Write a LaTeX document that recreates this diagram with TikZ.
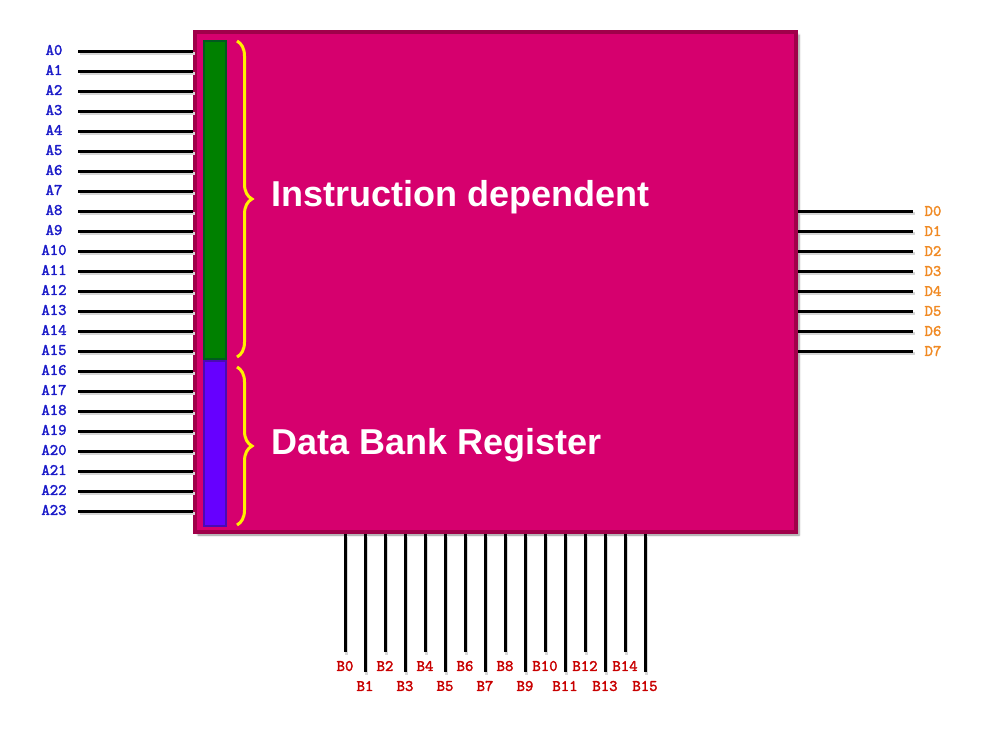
\documentclass[tikz,border=0pt]{standalone}
\usepackage{fontspec}
\setmainfont{Liberation Sans}
\newfontfamily\pinfont{lmmono10-regular.otf}[FakeBold=2]
\usepackage{tikz}
\usetikzlibrary{calc,shadows.blur,decorations.pathreplacing}
\definecolor{chipfill}{HTML}{D6006E}
\definecolor{chipedge}{HTML}{A0004A}
\definecolor{instrfill}{HTML}{008000}
\definecolor{instredge}{HTML}{005A1E}
\definecolor{bankfill}{HTML}{6600FF}
\definecolor{bankedge}{HTML}{4A0AB4}
\definecolor{bracecol}{HTML}{FFF000}
\definecolor{addrcol}{HTML}{1A1AC8}
\definecolor{datacol}{HTML}{F08A24}
\definecolor{bankcol}{HTML}{C80000}
\tikzset{
  chip/.style={
    draw=chipedge,
    fill=chipfill,
    line width=4pt,
    minimum width=601pt,
    minimum height=500pt,
    inner sep=0pt,
    blur shadow={shadow blur steps=6, shadow xshift=3pt, shadow yshift=-3pt, shadow opacity=45}
  },
  bar/.style={line width=2pt, minimum width=22pt, inner sep=0pt},
  instrbar/.style={bar, fill=instrfill, draw=instredge, minimum height=318pt},
  bankbar/.style={bar, fill=bankfill, draw=bankedge, minimum height=165pt},
  pinwire/.style={line width=3pt, draw=black,
    preaction={draw=black!16, line width=3.5pt, transform canvas={xshift=1.5pt, yshift=-2.5pt}}},
  pinlabel/.style={font=\pinfont\fontsize{16}{16}\selectfont, inner sep=0pt},
  fieldbrace/.style={draw=bracecol, line width=3pt, decorate,
    decoration={brace, amplitude=15pt}},
  fieldtext/.style={font=\bfseries\fontsize{36}{36}\selectfont, text=white, anchor=west, inner sep=0pt}
}

\begin{document}
\begin{tikzpicture}[x=1pt,y=-1pt]
\useasboundingbox (0,0) rectangle (990,739);

\node[chip] (chip) at (495.5,282) {};
\node[instrbar] (instr) at (215,200) {};
\node[bankbar] (bank) at (215,443.5) {};

% field braces
\coordinate (instrtop) at (237,41);
\coordinate (instrbot) at (237,357);
\coordinate (banktop) at (237,367);
\coordinate (bankbot) at (237,525);
\draw[fieldbrace] (instrtop) -- (instrbot);
\draw[fieldbrace] (banktop) -- (bankbot);
\node[fieldtext] (instrtext) at (271,197) {Instruction dependent};
\node[fieldtext] (banktext) at (271,445) {Data Bank Register};

% address pins
\foreach \i in {0,...,23}{
  \coordinate (a\i) at (78,51+20*\i);
  \draw[pinwire] (a\i) -- (a\i -| chip.west);
  \node[pinlabel, text=addrcol] (alabel\i) at (54,50+20*\i) {A\i};
}

% data pins
\foreach \i in {0,...,7}{
  \coordinate (d\i) at (913,211+20*\i);
  \draw[pinwire] (chip.east |- d\i) -- (d\i);
  \node[pinlabel, text=datacol] (dlabel\i) at (933,211+20*\i) {D\i};
}

% bank pins
\foreach \i in {0,...,15}{
  \pgfmathsetmacro{\drop}{isodd(\i) ? 672 : 652}
  \pgfmathsetmacro{\laby}{isodd(\i) ? 686 : 666}
  \coordinate (b\i) at (345+20*\i,\drop);
  \draw[pinwire] (b\i |- chip.south) -- (b\i);
  \node[pinlabel, text=bankcol] (blabel\i) at (345+20*\i,\laby) {B\i};
}

\end{tikzpicture}
\end{document}
